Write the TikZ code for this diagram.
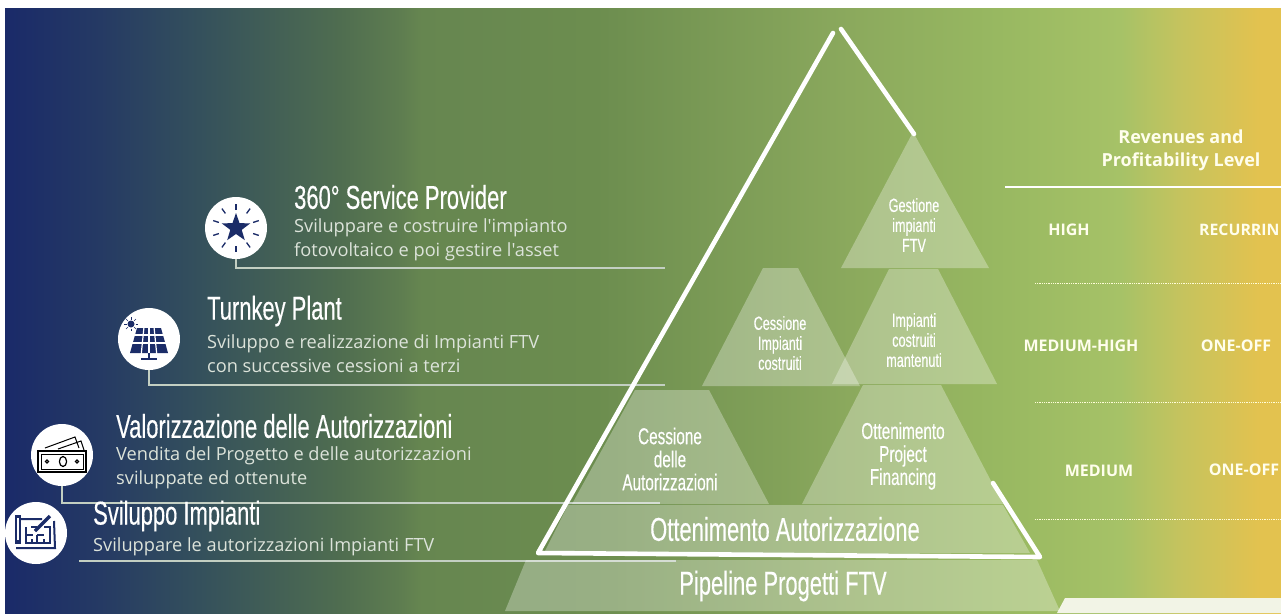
\documentclass[tikz,border=0pt]{standalone}
\usepackage{fontspec}
\setmainfont{Liberation Sans}
\newfontfamily\headfont[FakeStretch=0.665,FakeBold=0.3]{Liberation Sans}
\newfontfamily\bodyfont{Open Sans}
\definecolor{navyicon}{HTML}{1B2C68}
\definecolor{leadgrey}{HTML}{C3CFC2}
\definecolor{subgrey}{HTML}{DCE3DA}
\definecolor{paleband}{HTML}{F2F4E6}
\pgfdeclarehorizontalshading{bgfade}{100bp}{
    rgb(0bp)=(0.102,0.165,0.412);
    rgb(25bp)=(0.102,0.165,0.412);
    rgb(28.7bp)=(0.145,0.227,0.392);
    rgb(32.6bp)=(0.204,0.314,0.361);
    rgb(38.1bp)=(0.310,0.427,0.314);
    rgb(40.5bp)=(0.369,0.490,0.314);
    rgb(41.3bp)=(0.400,0.525,0.314);
    rgb(48.3bp)=(0.425,0.555,0.310);
    rgb(58.1bp)=(0.545,0.663,0.365);
    rgb(63.9bp)=(0.596,0.722,0.380);
    rgb(68.7bp)=(0.651,0.761,0.404);
    rgb(71bp)=(0.769,0.765,0.369);
    rgb(74.2bp)=(0.890,0.761,0.310);
    rgb(100bp)=(0.890,0.761,0.310)}
\tikzset{
    iconcircle/.style={circle,fill=white,minimum size=62pt,inner sep=0pt},
    leaderline/.style={draw=leadgrey,line width=1.1pt},
    pyrpart/.style={fill=white,fill opacity=0.3},
    outline/.style={draw=white,line width=4.6pt,line cap=round,line join=round},
    headtext/.style={anchor=west,inner sep=0pt,text=white,font=\headfont\fontsize{33}{35}\selectfont},
    subtext/.style={anchor=west,inner sep=0pt,align=left,text=subgrey,font=\bodyfont\fontsize{18.2}{24}\selectfont},
    pyrtext/.style={inner sep=0pt,align=center,text=white,font=\headfont\fontsize{19}{20}\selectfont},
    pyrmid/.style={inner sep=0pt,align=center,text=white,font=\headfont\fontsize{23}{23}\selectfont},
    pyrwide/.style={inner sep=0pt,text=white,font=\headfont\fontsize{33}{35}\selectfont},
    leveltext/.style={inner sep=0pt,align=center,text=white!93!yellow,font=\bodyfont\bfseries\fontsize{16}{19}\selectfont},
    revtext/.style={inner sep=0pt,align=center,text=white!93!yellow,font=\bodyfont\bfseries\fontsize{18}{23}\selectfont}
}
\begin{document}
\begin{tikzpicture}[x=1pt,y=-1pt]
    \useasboundingbox (0,0) rectangle (1281,613);
    \shade[shading=bgfade] (5,8) rectangle (1281,613);
    \fill[paleband] (1065,598) -- (1281,598) -- (1281,613) -- (1057,613) -- cycle;

    % icon circles and leader lines
    \node[iconcircle] (starcircle) at (236,228) {};
    \node[iconcircle] (panelcircle) at (149,339) {};
    \node[iconcircle] (moneycircle) at (62,455) {};
    \node[iconcircle] (plancircle) at (36,533) {};
    \coordinate (starend) at (665,268);
    \coordinate (panelend) at (665,385);
    \coordinate (moneyend) at (660,503);
    \coordinate (planstart) at (79,561);
    \coordinate (planend) at (676,561);
    \draw[leaderline] (starcircle.south) |- (starend);
    \draw[leaderline] (panelcircle.south) |- (panelend);
    \draw[leaderline] (moneycircle.south) |- (moneyend);
    \draw[leaderline] (planstart) -- (planend);

    % star icon
    \begin{scope}[shift={(starcircle.center)}]
        \fill[navyicon] (-90:15) -- (-54:6) -- (-18:15) -- (18:6) -- (54:15) -- (90:6)
            -- (126:15) -- (162:6) -- (198:15) -- (234:6) -- cycle;
        \foreach \a in {0,36,...,324}
            \draw[navyicon,line width=1.3pt] (\a-90:18) -- (\a-90:24);
    \end{scope}
    % solar panel icon
    \begin{scope}[shift={(panelcircle.center)}]
        \fill[navyicon] (-12,-11) -- (12,-11) -- (19,14) -- (-19,14) -- cycle;
        \foreach \y in {-4,4}
            \draw[white,line width=1.2pt] (-21,\y) -- (21,\y);
        \foreach \x in {-5,0,5}
            \draw[white,line width=1.2pt] (\x,-12) -- (\x*1.55,15);
        \draw[navyicon,line width=2pt] (0,14) -- (0,20) (-8,20) -- (8,20);
        \fill[navyicon] (-18,-15) circle (3.5);
        \foreach \a in {0,45,...,315}
            \draw[navyicon,line width=.6pt] (-18,-15) ++(\a:4.5) -- ++(\a:2.5);
    \end{scope}
    % banknote icon
    \begin{scope}[shift={(moneycircle.center)}]
        \draw[black,line width=1pt] (-17,-7) -- (13,-18) -- (17,-7) (-4,-6) -- (19,-14) -- (22,-5);
        \draw[black,line width=1.6pt] (-24,-4) rectangle (24,17);
        \draw[black,line width=1pt] (-21,-1) rectangle (21,14);
        \draw[black,line width=1.2pt] (1,6.5) ellipse (3.6 and 5);
        \draw[black,line width=1.2pt] (-15,6.5) circle (1.6) (15,6.5) circle (1.6);
    \end{scope}
    % blueprint icon
    \begin{scope}[shift={(plancircle.center)}]
        \draw[navyicon,line width=2pt] (-15,-14) -- (6,-14) (18,-12) -- (19,15) -- (-20,15);
        \fill[navyicon] (-21,-18) rectangle (-15,11);
        \fill[white] (-19,-15) rectangle (-17,7);
        \draw[navyicon,line width=1.5pt] (-10,-6) -- (-10,10) -- (14,10) -- (14,-6) -- (8,-6)
            (-10,2) -- (-3,2) (1,-6) -- (-5,-6) (1,2) -- (8,2) (1,2) -- (1,10) (-4,6) -- (-4,10) (8,6) -- (8,10);
        \draw[navyicon,line width=3.4pt] (-1,-2) -- (14,-17);
    \end{scope}

    % left texts
    \node[headtext] (starhead) at (294,197) {360° Service Provider};
    \node[subtext] (starsub) at (294,240) {Sviluppare e costruire l'impianto\\fotovoltaico e poi gestire l'asset};
    \node[headtext] (panelhead) at (207,311) {Turnkey Plant};
    \node[subtext] (panelsub) at (207,354) {Sviluppo e realizzazione di Impianti FTV\\con successive cessioni a terzi};
    \node[headtext] (moneyhead) at (116,426) {Valorizzazione delle Autorizzazioni};
    \node[subtext] (moneysub) at (116,468) {Vendita del Progetto e delle autorizzazioni\\sviluppate ed ottenute};
    \node[headtext] (planhead) at (93,516) {Sviluppo Impianti};
    \node[subtext] (plansub) at (93,547) {Sviluppare le autorizzazioni Impianti FTV};

    % pyramid
    \fill[pyrpart] (913,132) -- (989,268) -- (841,268) -- cycle;
    \fill[pyrpart] (889,269) -- (938,269) -- (997,384) -- (832,384) -- cycle;
    \fill[pyrpart] (763,268) -- (798,268) -- (860,386) -- (702,386) -- cycle;
    \fill[pyrpart] (863,385) -- (941,385) -- (1003,504) -- (802,504) -- cycle;
    \fill[pyrpart] (635,390) -- (709,390) -- (769,504) -- (572,504) -- cycle;
    \fill[pyrpart] (568,505) -- (1003,505) -- (1030,553) -- (544,553) -- cycle;
    \fill[pyrpart] (526,560) -- (1037,560) -- (1060,611) -- (505,611) -- cycle;
    \draw[outline] (833,33) -- (538,553) -- (1040,557) -- (993,483);
    \draw[outline] (841,29) -- (914,134);

    % pyramid texts
    \node[pyrtext] (gestione) at (914,225) {Gestione\\impianti\\FTV};
    \node[pyrtext] (mantenuti) at (914,340) {Impianti\\costruiti\\mantenuti};
    \node[pyrtext] (cessimp) at (780,343) {Cessione\\Impianti\\costruiti};
    \node[pyrmid] (financing) at (903,456) {Ottenimento\\Project\\Financing};
    \node[pyrmid] (cessaut) at (670,459) {Cessione\\delle\\Autorizzazioni};
    \node[pyrwide] (autorizz) at (785,529) {Ottenimento Autorizzazione};
    \node[pyrwide] (pipeline) at (783,586) {Pipeline Progetti FTV};

    % revenues table
    \coordinate (revstart) at (1005,187);
    \coordinate (revend) at (1281,187);
    \draw[draw=white,line width=2.4pt] (revstart) -- (revend);
    \node[revtext] (revhead) at (1181,150) {Revenues and\\Profitability Level};
    \node[leveltext] (lvlhigh) at (1069,230) {HIGH};
    \node[leveltext,anchor=west,font=\bodyfont\bfseries\fontsize{15.8}{19}\selectfont] (typerec) at (1199,230) {RECURRIN};
    \node[leveltext] (lvlmedhigh) at (1081,346) {MEDIUM-HIGH};
    \node[leveltext] (typeone) at (1236,346) {ONE-OFF};
    \node[leveltext] (lvlmed) at (1099,471) {MEDIUM};
    \node[leveltext] (typetwo) at (1244,470) {ONE-OFF};
    \foreach \y/\n in {283/a,402/b,519/c} {
        \coordinate (dot\n start) at (1035,\y);
        \coordinate (dot\n end) at (1281,\y);
        \draw[draw=white!85!yellow,line width=.8pt,densely dotted] (dot\n start) -- (dot\n end);
    }
\end{tikzpicture}
\end{document}
